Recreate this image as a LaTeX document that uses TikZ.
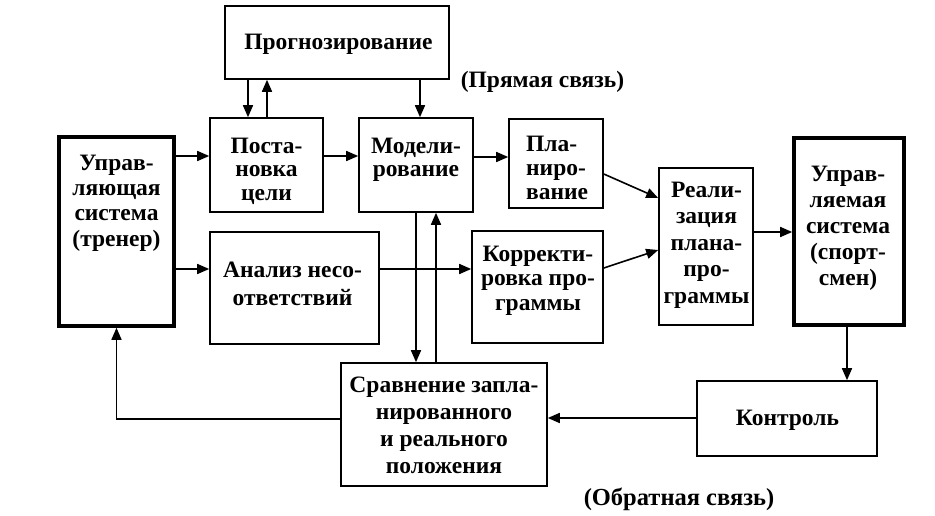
\documentclass[tikz,border=0pt]{standalone}
\usepackage{fontspec}
\setmainfont{Liberation Serif}
\usetikzlibrary{arrows.meta,fit}
\begin{document}
\begin{tikzpicture}[x=1pt,y=-1pt,
  box/.style={draw, line width=1.6pt, inner sep=0pt, fit={#1}},
  thickbox/.style={draw, line width=3.6pt, inner sep=0pt, fit={#1}},
  txt/.style={font=\fontsize{23.5}{#1}\selectfont\bfseries, align=center, anchor=base, inner sep=0pt},
  txt/.default=25,
  arr/.style={line width=1.6pt, -{Triangle[length=12pt,width=10pt]}}
  ]
\useasboundingbox[fill=white] (0,0) rectangle (935,516);

% boxes
\node[box={(225,6) (449,79)}] (prog) {};
\node[box={(210,118) (323,212)}] (post) {};
\node[box={(359,118) (473,212)}] (model) {};
\node[box={(509,119) (603,208)}] (plan) {};
\node[thickbox={(59,137) (174,326)}] (upr) {};
\node[box={(210,232) (379,344)}] (anal) {};
\node[box={(472,231) (603,343)}] (korr) {};
\node[box={(659,168) (753,325)}] (real) {};
\node[thickbox={(794,138) (904,325)}] (uprm) {};
\node[box={(341,363) (547,486)}] (sravn) {};
\node[box={(697,381) (877,456)}] (kontr) {};

% texts (anchor = baseline of the last line)
\node[txt] (prog-t) at (338.5,50) {Прогнозирование};
\node[txt=23.7] (post-t) at (266.5,200.4) {Поста-\\новка\\цели};
\node[txt=24] (model-t) at (416,177) {Модели-\\рование};
\node[txt=24, align=left, anchor=base west] (plan-t) at (526,200) {Пла-\\ниро-\\вание};
\node[txt=25.3] (upr-t) at (116.5,246) {Управ-\\ляющая\\система\\(тренер)};
\node[txt=28] (anal-t) at (292.5,305) {Анализ несо-\\ответствий};
\node[txt=24.5] (korr-t) at (538,310) {Корректи-\\ровка про-\\граммы};
\node[txt=26.5] (real-t) at (706.5,303) {Реали-\\зация\\плана-\\про-\\граммы};
\node[txt=25.8] (uprm-t) at (848,285) {Управ-\\ляемая\\система\\(спорт-\\смен)};
\node[txt=26.7] (sravn-t) at (444,473) {Сравнение запла-\\нированного\\и реального\\положения};
\node[txt] (kontr-t) at (787.5,425) {Контроль};
\node[txt] (direct) at (542.5,88) {(Прямая связь)};
\node[txt, font=\fontsize{24.5}{26}\selectfont\bfseries] (feedback) at (679,505) {(Обратная связь)};

% helper rows/columns
\coordinate (c248) at (248,0);
\coordinate (c267) at (267,0);
\coordinate (c420) at (420,0);
\coordinate (c416) at (416,0);
\coordinate (c436) at (436,0);
\coordinate (c847) at (847,0);
\coordinate (r156) at (0,156);
\coordinate (r157) at (0,157);
\coordinate (r269) at (0,269);
\coordinate (r232) at (0,232);
\coordinate (r418) at (0,418);
\coordinate (r419) at (0,419);

% arrows
\draw[arr] (prog.south -| c248) -- (post.north -| c248);
\draw[arr] (post.north -| c267) -- (prog.south -| c267);
\draw[arr] (prog.south -| c420) -- (model.north -| c420);
\draw[arr] (upr.east |- r156) -- (post.west |- r156);
\draw[arr] (post.east |- r156) -- (model.west |- r156);
\draw[arr] (model.east |- r157) -- (plan.west |- r157);
\draw[arr] ([yshift=-10.5pt]plan.east) -- ([yshift=48.5pt]real.west);
\draw[arr] ([yshift=19pt]korr.east) -- ([yshift=-3.5pt]real.west);
\draw[arr] (upr.east |- r269) -- (anal.west |- r269);
\draw[arr] (anal.east |- r269) -- (korr.west |- r269);
\draw[arr] (real.east |- r232) -- (uprm.west |- r232);
\draw[arr] (model.south -| c416) -- (sravn.north -| c416);
\draw[arr] (sravn.north -| c436) -- (model.south -| c436);
\draw[arr] (uprm.south -| c847) -- (kontr.north -| c847);
\draw[arr] (kontr.west |- r418) -- (sravn.east |- r418);
\draw[arr] (sravn.west |- r419) -| (upr.south);
\end{tikzpicture}
\end{document}
